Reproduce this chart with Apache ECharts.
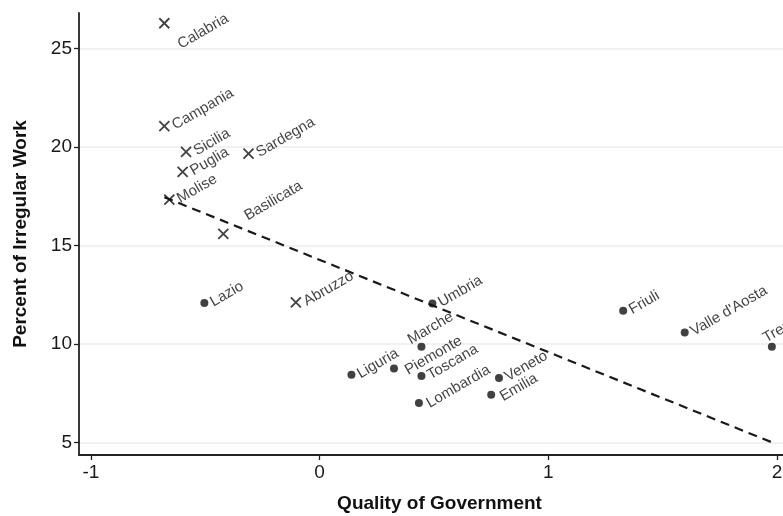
<!DOCTYPE html>
<html>
<head>
<meta charset="utf-8">
<script src="https://cdn.jsdelivr.net/npm/echarts@6/dist/echarts.min.js"></script>
<style>
html,body{margin:0;padding:0;background:#fff;}
#chart{width:783px;height:516px;}
</style>
</head>
<body>
<div id="chart"></div>
<script>
// Southern regions (marked with crosses)
const crossNames = ['Calabria','Campania','Sicilia','Sardegna','Puglia','Molise','Basilicata','Abruzzo'];
const crossQoG = [-0.679,-0.679,-0.584,-0.311,-0.599,-0.657,-0.421,-0.104];
const crossIrregular = [26.27,21.05,19.75,19.66,18.73,17.33,15.59,12.11];

// Central / northern regions (marked with dots)
const dotNames = ['Lazio','Umbria','Marche','Liguria','Piemonte','Toscana','Lombardia','Veneto','Emilia','Friuli',"Valle d'Aosta",'Trentino'];
const dotQoG = [-0.504,0.493,0.445,0.139,0.325,0.445,0.434,0.784,0.750,1.327,1.596,1.977];
const dotIrregular = [12.08,12.06,9.86,8.44,8.76,8.38,7.01,8.28,7.43,11.69,10.59,9.86];

// Fitted line end points
const fitQoG = [-0.679, 1.977];
const fitIrregular = [17.45, 5.02];

// Tick values
const xTicks = [-1, 0, 1, 2];
const yTicks = [5, 10, 15, 20, 25];

// Label nudges (layout only)
const labelNudge = {
  Calabria: [-6, 22], Basilicata: [20, -8], Marche: [-14, -15], Piemonte: [3, 5],
  Lombardia: [1, 2], Emilia: [1, 4], Trentino: [-9, -14]
};

const FONT = 'Liberation Sans, Arial, sans-serif';

function items(names, xs, ys) {
  return names.map((n, i) => ({
    name: n,
    value: [xs[i], ys[i]],
    label: { offset: labelNudge[n] || [0, 0] }
  }));
}

const labelStyle = {
  show: true,
  formatter: '{b}',
  position: 'right',
  distance: 3,
  rotate: 30,
  align: 'left',
  verticalAlign: 'middle',
  fontSize: 15,
  color: '#111',
  fontFamily: FONT
};

const chart = echarts.init(document.getElementById('chart'), null, { renderer: 'canvas' });
chart.setOption({
  backgroundColor: '#fff',
  animation: false,
  grid: { left: 79, right: -17, top: 13, bottom: 61, containLabel: false, outerBoundsMode: 'none' },
  xAxis: {
    type: 'value',
    min: -1.052,
    max: 2.1,
    name: 'Quality of Government',
    nameLocation: 'middle',
    nameGap: 39,
    nameTextStyle: { fontSize: 19, fontWeight: 'bold', color: '#111', fontFamily: FONT },
    axisLine: { show: true, onZero: false, lineStyle: { color: '#222', width: 1.8 } },
    axisTick: { show: true, length: 5, customValues: xTicks, lineStyle: { color: '#222', width: 1.3 } },
    axisLabel: { customValues: xTicks, fontSize: 19, margin: 8, color: '#1a1a1a', fontFamily: FONT },
    splitLine: { show: false }
  },
  yAxis: {
    type: 'value',
    min: 4.376,
    max: 26.79,
    name: 'Percent of Irregular Work',
    nameLocation: 'middle',
    nameGap: 49,
    nameTextStyle: { fontSize: 19, fontWeight: 'bold', color: '#111', fontFamily: FONT },
    axisLine: { show: true, onZero: false, lineStyle: { color: '#222', width: 1.8 } },
    axisTick: { show: true, length: 5, customValues: yTicks, lineStyle: { color: '#222', width: 1.3 } },
    axisLabel: { customValues: yTicks, fontSize: 19, margin: 7, color: '#1a1a1a', fontFamily: FONT },
    splitLine: { show: true, lineStyle: { color: '#ececec', width: 1.5 } }
  },
  series: [
    {
      type: 'line',
      data: fitQoG.map((x, i) => [x, fitIrregular[i]]),
      symbol: 'none',
      lineStyle: { color: '#1a1a1a', width: 2.2, type: [9, 6] },
      z: 1,
      silent: true
    },
    {
      type: 'scatter',
      data: items(crossNames, crossQoG, crossIrregular),
      symbol: 'path://M0,0L10,10M10,0L0,10',
      symbolSize: 10,
      itemStyle: { color: 'rgba(0,0,0,0)', borderColor: '#111', borderWidth: 1.8 },
      label: labelStyle,
      z: 3
    },
    {
      type: 'scatter',
      data: items(dotNames, dotQoG, dotIrregular),
      symbol: 'circle',
      symbolSize: 8,
      itemStyle: { color: '#111' },
      label: labelStyle,
      z: 3
    }
  ]
});
</script>
</body>
</html>
